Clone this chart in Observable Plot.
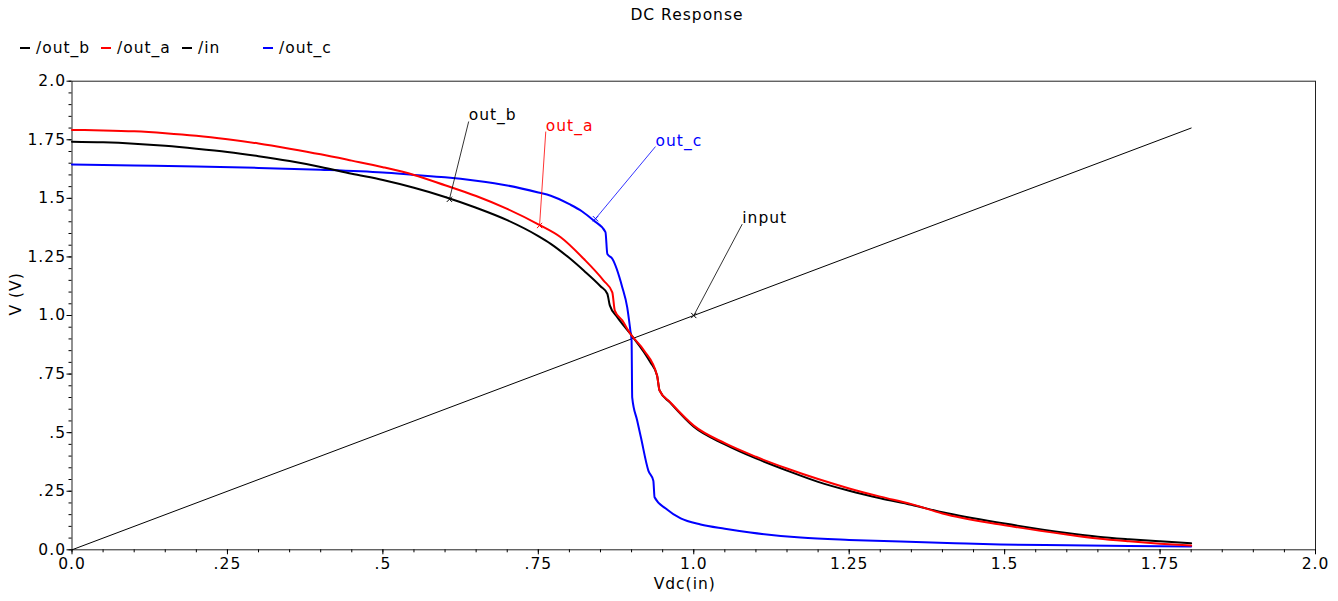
<!DOCTYPE html>
<html><head><meta charset="utf-8">
<script src="https://cdn.jsdelivr.net/npm/d3@7"></script>
<script src="https://cdn.jsdelivr.net/npm/@observablehq/plot@0.6"></script>
<style>
body{margin:0;background:#fff;font-family:"DejaVu Sans",sans-serif;color:#000;}
#title{height:30px;line-height:30px;text-align:center;font-size:15.5px;letter-spacing:1px;padding-left:36px;box-sizing:border-box;width:1338px;}
#legend{height:36px;display:flex;align-items:center;padding-left:20px;font-size:15.5px;letter-spacing:1px;}
#legend .item{width:81px;display:flex;align-items:center;white-space:nowrap;}
#legend .dash{display:inline-block;width:10px;height:1.5px;margin-right:6px;}
#chart svg{display:block;}
</style></head><body>
<div id="title">DC Response</div>
<div id="legend"></div>
<div id="chart"></div>
<script>
// Series: Vdc(in) sweep values and node voltages
const outA_x = [0, 0.05, 0.1, 0.15, 0.2, 0.25, 0.3, 0.35, 0.4, 0.45, 0.5, 0.55, 0.6, 0.65, 0.7, 0.75, 0.786, 0.823, 0.855, 0.869, 0.873, 0.885, 0.898, 0.92, 0.941, 0.945, 0.962, 1.0, 1.05, 1.1, 1.15, 1.2, 1.25, 1.3, 1.35, 1.4, 1.5, 1.6, 1.65, 1.7, 1.75, 1.8];
const outA_y = [1.792, 1.790, 1.786, 1.778, 1.767, 1.752, 1.734, 1.712, 1.688, 1.661, 1.633, 1.600, 1.556, 1.510, 1.455, 1.389, 1.334, 1.242, 1.149, 1.099, 1.021, 0.979, 0.922, 0.851, 0.744, 0.680, 0.630, 0.530, 0.455, 0.397, 0.347, 0.302, 0.262, 0.227, 0.195, 0.155, 0.105, 0.065, 0.048, 0.036, 0.026, 0.018];

const outB_x = [0, 0.05, 0.1, 0.15, 0.2, 0.25, 0.3, 0.35, 0.4, 0.45, 0.5, 0.55, 0.6, 0.65, 0.7, 0.75, 0.77, 0.8, 0.823, 0.85, 0.861, 0.865, 0.877, 0.898, 0.93, 0.941, 0.945, 0.962, 1.0, 1.05, 1.1, 1.15, 1.2, 1.25, 1.3, 1.35, 1.4, 1.5, 1.6, 1.65, 1.7, 1.75, 1.8];
const outB_y = [1.742, 1.739, 1.733, 1.724, 1.712, 1.698, 1.680, 1.659, 1.634, 1.605, 1.578, 1.545, 1.506, 1.460, 1.407, 1.339, 1.306, 1.245, 1.192, 1.125, 1.093, 1.043, 0.993, 0.922, 0.801, 0.744, 0.680, 0.628, 0.525, 0.450, 0.390, 0.338, 0.290, 0.252, 0.220, 0.192, 0.160, 0.112, 0.072, 0.056, 0.045, 0.036, 0.028];

const outC_x = [0, 0.05, 0.1, 0.2, 0.3, 0.4, 0.5, 0.55, 0.6, 0.65, 0.7, 0.75, 0.77, 0.8, 0.82, 0.839, 0.858, 0.861, 0.869, 0.885, 0.893, 0.898, 0.9, 0.901, 0.909, 0.915, 0.927, 0.935, 0.937, 0.955, 0.979, 1.011, 1.05, 1.091, 1.172, 1.25, 1.333, 1.42, 1.493, 1.6, 1.7, 1.8];
const outC_y = [1.645, 1.642, 1.640, 1.636, 1.630, 1.622, 1.610, 1.600, 1.590, 1.575, 1.555, 1.525, 1.511, 1.475, 1.445, 1.405, 1.356, 1.263, 1.242, 1.121, 1.035, 0.937, 0.894, 0.651, 0.552, 0.480, 0.338, 0.295, 0.224, 0.176, 0.134, 0.108, 0.090, 0.074, 0.052, 0.042, 0.035, 0.028, 0.023, 0.019, 0.016, 0.014];

const in_x = [0, 1.8];
const in_y = [0, 1.8];

// Legend
const legendNames = ["/out_b", "/out_a", "/in", "/out_c"];
const legendColors = ["black", "red", "black", "blue"];

// Ticks
const xTicks = [0, 0.25, 0.5, 0.75, 1.0, 1.25, 1.5, 1.75, 2.0];
const xTickLabels = ["0.0", ".25", ".5", ".75", "1.0", "1.25", "1.5", "1.75", "2.0"];
const yTicks = [0, 0.25, 0.5, 0.75, 1.0, 1.25, 1.5, 1.75, 2.0];
const yTickLabels = ["0.0", ".25", ".5", ".75", "1.0", "1.25", "1.5", "1.75", "2.0"];
const minorTicks = d3.range(0, 41).map(i => i * 0.05);

// Annotations (marker point on curve, label anchor point)
const annLabels = ["out_b", "out_a", "out_c", "input"];
const annColors = ["black", "red", "blue", "black"];
const annPointX = [0.607, 0.752, 0.842, 1.0];
const annPointY = [1.496, 1.384, 1.413, 1.0];
const annTextX = [0.638, 0.762, 0.9385, 1.078];
const annTextY = [1.828, 1.785, 1.721, 1.390];

const toRows = (xs, ys) => xs.map((x, i) => ({x, y: ys[i]}));
const A = toRows(outA_x, outA_y);
const B = toRows(outB_x, outB_y);
const C = toRows(outC_x, outC_y);
const I = toRows(in_x, in_y);
const ann = annLabels.map((t, i) => ({t, c: annColors[i], px: annPointX[i], py: annPointY[i], tx: annTextX[i], ty: annTextY[i]}));

// Legend HTML
const leg = document.getElementById("legend");
legendNames.forEach((n, i) => {
  const it = document.createElement("div");
  it.className = "item";
  const d = document.createElement("span");
  d.className = "dash";
  d.style.background = legendColors[i];
  const s = document.createElement("span");
  s.textContent = n;
  it.appendChild(d); it.appendChild(s);
  leg.appendChild(it);
});

const chart = Plot.plot({
  width: 1338,
  height: 535,
  marginTop: 14.7,
  marginBottom: 51.7,
  marginLeft: 71.5,
  marginRight: 23,
  style: {fontFamily: "DejaVu Sans, sans-serif", fontSize: "15.5px", letterSpacing: "1px", background: "#fff", color: "#000"},
  x: {domain: [0, 2]},
  y: {domain: [0, 2]},
  marks: [
    Plot.frame({stroke: "#222"}),
    Plot.axisX({ticks: minorTicks, tickSize: 3, tickFormat: () => "", label: null}),
    Plot.axisY({ticks: minorTicks, tickSize: 3, tickFormat: () => "", label: null}),
    Plot.axisX({ticks: xTicks, tickSize: 5, tickPadding: 3, tickFormat: d => xTickLabels[Math.round(d / 0.25)], label: null}),
    Plot.axisY({ticks: yTicks, tickSize: 5, tickPadding: 1, tickFormat: d => yTickLabels[Math.round(d / 0.25)], label: null}),
    Plot.text(["Vdc(in)"], {frameAnchor: "bottom", dy: 39, dx: -9, fill: "#000"}),
    Plot.text(["V (V)"], {frameAnchor: "left", dx: -55.5, rotate: -90, fill: "#000"}),
    Plot.line(I, {x: "x", y: "y", stroke: "black", strokeWidth: 1}),
    Plot.line(C, {x: "x", y: "y", stroke: "blue", strokeWidth: 2, curve: "monotone-x"}),
    Plot.line(B, {x: "x", y: "y", stroke: "black", strokeWidth: 2, curve: "monotone-x"}),
    Plot.line(A, {x: "x", y: "y", stroke: "red", strokeWidth: 2, curve: "monotone-x"}),
    Plot.link(ann, {x1: "px", y1: "py", x2: "tx", y2: "ty", stroke: "c", strokeWidth: 0.8}),
    Plot.dot(ann, {x: "px", y: "py", symbol: "times", r: 2.5, stroke: "c", strokeWidth: 1}),
    Plot.text(ann, {x: "tx", y: "ty", text: "t", fill: "c", textAnchor: "start", lineAnchor: "bottom", dy: -1})
  ]
});
document.getElementById("chart").appendChild(chart);
</script>
</body></html>
